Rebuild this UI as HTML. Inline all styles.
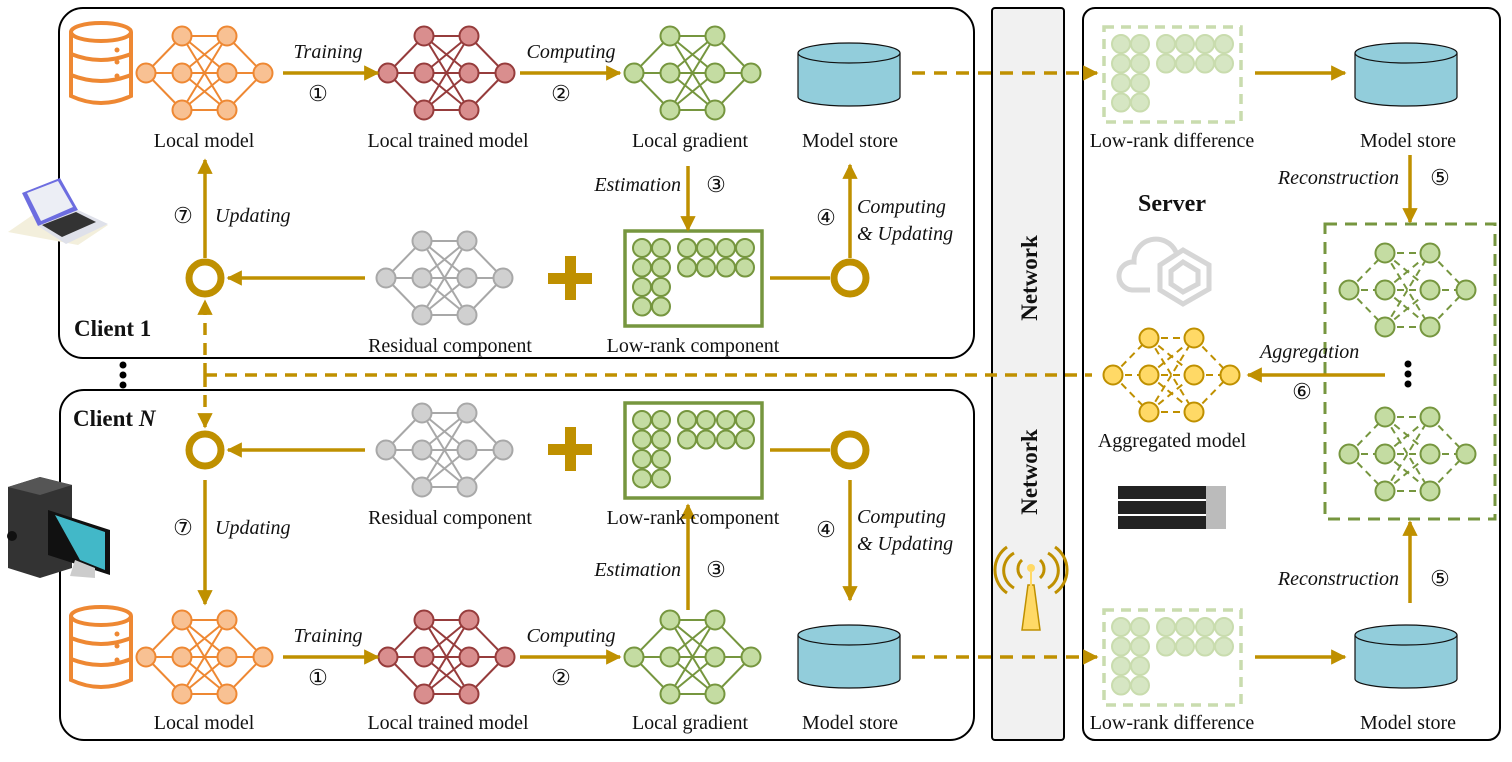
<!DOCTYPE html>
<html><head><meta charset="utf-8"><style>
html,body{margin:0;padding:0;background:#fff;}
svg{display:block;}
text{font-family:"Liberation Serif",serif;font-size:20px;fill:#111;}
.it{font-style:italic;}
.b{font-weight:bold;}
.n{font-size:22px;}
</style></head><body>
<svg id="s" width="1512" height="762" viewBox="0 0 1512 762" xmlns="http://www.w3.org/2000/svg">
<defs>
<marker id="ah" viewBox="0 0 10 10" refX="9" refY="5" markerWidth="4.4" markerHeight="4.4" orient="auto"><path d="M0,0 L10,5 L0,10 z" fill="#BF9000"/></marker>
</defs>
<rect x="59" y="8" width="915" height="350" rx="24" fill="#fff" stroke="#000" stroke-width="2"/>
<rect x="60" y="390" width="914" height="350" rx="24" fill="#fff" stroke="#000" stroke-width="2"/>
<rect x="992" y="8" width="72" height="732" rx="3" fill="#f1f1f1" stroke="#000" stroke-width="2"/>
<rect x="1083" y="8" width="417" height="732" rx="12" fill="#fff" stroke="#000" stroke-width="2"/>
<g id="nets"></g>
<g id="mats"></g>

<g fill="none" stroke="#EE8833" stroke-width="4">
<g id="db1">
<ellipse cx="101" cy="32" rx="30" ry="9"/>
<path d="M71,32 V96 Q101,110 131,96 V32"/>
<path d="M71,54 Q101,66 131,54 M71,75 Q101,87 131,75"/>
</g>
<use href="#db1" y="584"/>
</g>
<g fill="#EE8833"><circle cx="117" cy="50" r="2.5"/><circle cx="117" cy="62" r="2.5"/><circle cx="117" cy="76" r="2.5"/>
<circle cx="117" cy="634" r="2.5"/><circle cx="117" cy="646" r="2.5"/><circle cx="117" cy="660" r="2.5"/></g>

<g fill="#92CDDB" stroke="#111" stroke-width="1.2" id="cyl">
<path d="M798,53 V97 A51,9 0 0 0 900,97 V53"/>
<ellipse cx="849" cy="53" rx="51" ry="10"/>
</g>
<use href="#cyl" x="557"/>
<use href="#cyl" y="582"/>
<use href="#cyl" x="557" y="582"/>

<g fill="none" stroke="#BF9000" stroke-width="7">
<circle cx="205" cy="278" r="16"/><circle cx="850" cy="278" r="16"/>
<circle cx="205" cy="450" r="16"/><circle cx="850" cy="450" r="16"/>
</g>
<g fill="#BF9000"><rect x="548" y="273" width="44" height="11"/><rect x="565" y="256" width="11" height="44"/>
<rect x="548" y="444" width="44" height="11"/><rect x="565" y="427" width="11" height="44"/></g>

<g stroke="#BF9000" stroke-width="3.5" fill="none" marker-end="url(#ah)">
<path d="M283,73 H378"/><path d="M520,73 H620"/>
<path d="M283,657 H378"/><path d="M520,657 H620"/>
<path d="M912,73 H1097" stroke-dasharray="13,9"/>
<path d="M912,657 H1097" stroke-dasharray="13,9"/>
<path d="M1255,73 H1345"/><path d="M1255,657 H1345"/>
<path d="M688,166 V230"/><path d="M850,258 V165"/>
<path d="M688,610 V505"/><path d="M850,480 V600"/>
<path d="M365,278 H228"/><path d="M365,450 H228"/>
<path d="M205,258 V160"/><path d="M205,480 V604"/>
<path d="M1410,155 V222"/><path d="M1410,603 V522"/>
<path d="M1385,375 H1248"/>
<path d="M205,375 V301" stroke-dasharray="12,8"/>
<path d="M205,375 V427" stroke-dasharray="12,8"/>
</g>
<g stroke="#BF9000" stroke-width="3.5" fill="none">
<path d="M770,278 H830"/><path d="M770,450 H830"/>
<path d="M205,375 H1092" stroke-dasharray="12,8"/>
</g>

<g fill="#000"><circle cx="123" cy="365" r="3.5"/><circle cx="123" cy="375" r="3.5"/><circle cx="123" cy="385" r="3.5"/>
<circle cx="1408" cy="364" r="3.5"/><circle cx="1408" cy="374" r="3.5"/><circle cx="1408" cy="384" r="3.5"/></g>

<g>
<path d="M8,232 L40,210 L108,225 L78,245 Z" fill="#f3efdc"/>
<path d="M22,193 L60,178 L78,210 L38,226 Z" fill="#6d6de0"/>
<path d="M27,193 L58,181 L73,207 L41,221 Z" fill="#eceef5"/>
<path d="M38,226 L78,210 L108,224 L66,244 Z" fill="#dfe1ea"/>
<path d="M42,225 L76,212 L96,222 L62,237 Z" fill="#333"/>
</g>
<g>
<path d="M8,487 L40,477 L72,485 L72,568 L40,578 L8,568 Z" fill="#333"/>
<path d="M8,487 L40,477 L72,485 L40,495 Z" fill="#555"/>
<circle cx="12" cy="536" r="5" fill="#111"/>
<path d="M48,510 L110,530 L110,575 L48,555 Z" fill="#111"/>
<path d="M55,515 L105,532 L105,570 L80,560 Z" fill="#42b8c8"/>
<path d="M75,560 L95,568 L95,578 L70,576 Z" fill="#ccc"/>
</g>
<g fill="none" stroke="#d6d6d6" stroke-width="5">
<path d="M1150,290 H1132 A14,14 0 0 1 1134,262 A22,22 0 0 1 1176,252"/>
<path d="M1183,250 L1209,265 L1209,289 L1183,304 L1160,290 L1160,265 Z"/>
<path d="M1183,262 L1198,271 L1198,284 L1183,292 L1171,284 L1171,271 Z"/>
</g>
<g>
<rect x="1118" y="486" width="108" height="13" fill="#222"/>
<rect x="1118" y="501" width="108" height="13" fill="#222"/>
<rect x="1118" y="516" width="108" height="13" fill="#222"/>
<rect x="1206" y="486" width="20" height="43" fill="#bbb"/>
</g>
<g>
<path d="M1028,585 L1022,630 L1040,630 L1034,585 Z" fill="#FFD966" stroke="#BF9000" stroke-width="1.5"/>
<circle cx="1031" cy="568" r="4" fill="#FFD966"/>
<line x1="1031" y1="572" x2="1031" y2="586" stroke="#FFD966" stroke-width="2"/>
<g fill="none" stroke="#BF9000" stroke-width="3">
<path d="M1022,560 A12,12 0 0 0 1022,578"/><path d="M1040,560 A12,12 0 0 1 1040,578"/>
<path d="M1014,553 A20,20 0 0 0 1014,588"/><path d="M1048,553 A20,20 0 0 1 1048,588"/>
<path d="M1007,547 A28,28 0 0 0 1007,593"/><path d="M1055,547 A28,28 0 0 1 1055,593"/>
</g></g>

<g text-anchor="middle">
<text x="204" y="147">Local model</text>
<text x="448" y="147">Local trained model</text>
<text x="690" y="147">Local gradient</text>
<text x="850" y="147">Model store</text>
<text x="1172" y="147">Low-rank difference</text>
<text x="1408" y="147">Model store</text>
<text x="450" y="352">Residual component</text>
<text x="693" y="352">Low-rank component</text>
<text x="450" y="524">Residual component</text>
<text x="693" y="524">Low-rank component</text>
<text x="204" y="729">Local model</text>
<text x="448" y="729">Local trained model</text>
<text x="690" y="729">Local gradient</text>
<text x="850" y="729">Model store</text>
<text x="1172" y="729">Low-rank difference</text>
<text x="1408" y="729">Model store</text>
<text x="1172" y="447">Aggregated model</text>
<text class="it" x="328" y="58">Training</text>
<text class="it" x="571" y="58">Computing</text>
<text class="it" x="328" y="642">Training</text>
<text class="it" x="571" y="642">Computing</text>
<text class="n" x="318" y="101">①</text><text class="n" x="561" y="101">②</text>
<text class="n" x="318" y="685">①</text><text class="n" x="561" y="685">②</text>
<text class="n" x="716" y="192">③</text><text class="n" x="716" y="577">③</text>
<text class="n" x="826" y="225">④</text><text class="n" x="826" y="537">④</text>
<text class="n" x="183" y="223">⑦</text><text class="n" x="183" y="535">⑦</text>
<text class="n" x="1440" y="185">⑤</text><text class="n" x="1440" y="586">⑤</text>
<text class="n" x="1302" y="399">⑥</text>
<text class="b" x="1172" y="211" style="font-size:24px">Server</text>
</g>
<g text-anchor="end">
<text class="it" x="681" y="191">Estimation</text>
<text class="it" x="681" y="576">Estimation</text>
<text class="it" x="1399" y="184">Reconstruction</text>
<text class="it" x="1399" y="585">Reconstruction</text>
</g>
<text class="it" x="215" y="222">Updating</text>
<text class="it" x="215" y="534">Updating</text>
<text class="it" x="857" y="213">Computing</text>
<text class="it" x="857" y="240">&amp; Updating</text>
<text class="it" x="857" y="523">Computing</text>
<text class="it" x="857" y="550">&amp; Updating</text>
<text class="it" x="1260" y="358">Aggregation</text>
<text class="b" x="74" y="336" style="font-size:23px">Client 1</text>
<text class="b" x="73" y="426" style="font-size:23px">Client <tspan font-style="italic">N</tspan></text>
<text class="b" transform="translate(1037,278) rotate(-90)" text-anchor="middle" style="font-size:23px">Network</text>
<text class="b" transform="translate(1037,472) rotate(-90)" text-anchor="middle" style="font-size:23px">Network</text>
</svg>
<script>
var NS="http://www.w3.org/2000/svg";
function el(p,t,a){var e=document.createElementNS(NS,t);for(var k in a)e.setAttribute(k,a[k]);p.appendChild(e);return e;}
var nets=document.getElementById("nets");
function net(x0,cy,fill,stroke,dash){
 var xs=[x0,x0+36,x0+81,x0+117];var g=el(nets,"g",{stroke:stroke,"stroke-width":2,fill:"none"});
 if(dash)g.setAttribute("stroke-dasharray","7,5");
 var L=[[cy],[cy-37,cy,cy+37],[cy-37,cy,cy+37],[cy]];
 for(var i=0;i<3;i++)L[i].forEach(function(a){L[i+1].forEach(function(b){el(g,"line",{x1:xs[i],y1:a,x2:xs[i+1],y2:b});});});
 var gc=el(nets,"g",{stroke:stroke,"stroke-width":2,fill:fill});
 L.forEach(function(ys,i){ys.forEach(function(y){el(gc,"circle",{cx:xs[i],cy:y,r:9.5});});});
}
net(146,73,"#F8C193","#EE8833");
net(388,73,"#D98E8E","#963C3C");
net(634,73,"#C4DCA2","#76963F");
net(386,278,"#d0d0d0","#a8a8a8");
net(386,450,"#d0d0d0","#a8a8a8");
net(146,657,"#F8C193","#EE8833");
net(388,657,"#D98E8E","#963C3C");
net(634,657,"#C4DCA2","#76963F");
net(1349,290,"#C4DCA2","#76963F",1);
net(1349,454,"#C4DCA2","#76963F",1);
net(1113,375,"#FFD966","#BF9000",1);
var mats=document.getElementById("mats");
function mat(x,y,light){
 var st=light?"#c9dcae":"#76963F",fi=light?"#d6e6c3":"#C4DCA2";
 el(mats,"rect",{x:x,y:y,width:137,height:95,fill:light?"none":"#fff",stroke:st,"stroke-width":3.5,"stroke-dasharray":light?"10,7":"none"});
 var g=el(mats,"g",{fill:fi,stroke:st,"stroke-width":2});
 var cx=[x+17,x+36],rx=[x+62,x+81,x+101,x+120];
 for(var r=0;r<4;r++)cx.forEach(function(c){el(g,"circle",{cx:c,cy:y+17+r*19.5,r:9});});
 for(var r=0;r<2;r++)rx.forEach(function(c){el(g,"circle",{cx:c,cy:y+17+r*19.5,r:9});});
}
mat(625,231);mat(625,403);mat(1104,27,1);mat(1104,610,1);
el(mats,"rect",{x:1325,y:224,width:170,height:295,fill:"none",stroke:"#76963F","stroke-width":3,"stroke-dasharray":"12,8"});
</script>
</body></html>
